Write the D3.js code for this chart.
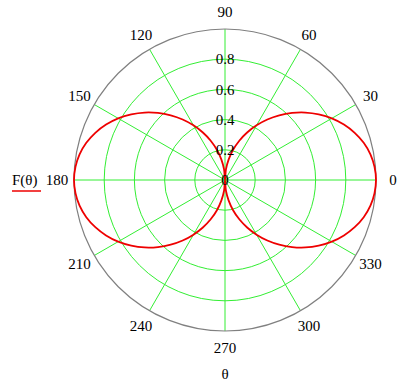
<!DOCTYPE html>
<html><head><meta charset="utf-8">
<script src="https://cdn.jsdelivr.net/npm/d3@7"></script>
<style>body{margin:0;background:#fff}svg{display:block}svg text{font-family:"Times New Roman","Liberation Serif",serif}</style>
</head><body>
<script>
const angleTicks = [0, 30, 60, 90, 120, 150, 180, 210, 240, 270, 300, 330];
const radialTicks = [0, 0.2, 0.4, 0.6, 0.8];
const radialLabels = ["0", "0.2", "0.4", "0.6", "0.8"];
const thetaDeg = d3.range(0, 360, 5);
const Fvalues = [
  1.000,0.994,0.978,0.951,0.914,0.869,0.817,0.758,0.695,0.628,0.559,0.489,0.418,0.347,0.277,0.207,0.137,0.069,
  0.000,0.069,0.137,0.207,0.277,0.347,0.418,0.489,0.559,0.628,0.695,0.758,0.817,0.869,0.914,0.951,0.978,0.994,
  1.000,0.994,0.978,0.951,0.914,0.869,0.817,0.758,0.695,0.628,0.559,0.489,0.418,0.347,0.277,0.207,0.137,0.069,
  0.000,0.069,0.137,0.207,0.277,0.347,0.418,0.489,0.559,0.628,0.695,0.758,0.817,0.869,0.914,0.951,0.978,0.994
];
const seriesName = "F(\u03B8)";
const axisName = "\u03B8";

const W = 403, H = 381, cx = 225, cy = 180, R = 151;
const svg = d3.select("body").append("svg").attr("width", W).attr("height", H);
const r = d3.scaleLinear().domain([0, 1]).range([0, R]);
const a = d3.scaleLinear().domain([0, 360]).range([0, 2 * Math.PI]);
const g = svg.append("g").attr("transform", `translate(${cx},${cy})`);
const green = "#33ee33";

g.selectAll("circle.grid").data(radialTicks.filter(d => d > 0)).join("circle")
  .attr("r", d => r(d)).attr("fill", "none").attr("stroke", green).attr("stroke-width", 1);
g.selectAll("line.spoke").data(angleTicks).join("line")
  .attr("x1", 0).attr("y1", 0)
  .attr("x2", d => r(1) * Math.cos(a(d))).attr("y2", d => -r(1) * Math.sin(a(d)))
  .attr("stroke", green).attr("stroke-width", 1);
g.append("circle").attr("r", r(1)).attr("fill", "none").attr("stroke", "#808080").attr("stroke-width", 1.2);

const line = d3.lineRadial()
  .angle((d, i) => Math.PI / 2 - a(thetaDeg[i]))
  .radius(d => r(d))
  .curve(d3.curveCatmullRomClosed);
g.append("path").datum(Fvalues).attr("d", line)
  .attr("fill", "none").attr("stroke", "#ee0000").attr("stroke-width", 1.8);

g.selectAll("text.rl").data(radialTicks).join("text")
  .attr("x", 0).attr("y", d => -r(d)).attr("dy", "0.35em")
  .attr("text-anchor", "middle").attr("font-size", 15)
  .text((d, i) => radialLabels[i]);

const LR = 168;
g.selectAll("text.al").data(angleTicks).join("text")
  .attr("x", d => LR * Math.cos(a(d))).attr("y", d => -LR * Math.sin(a(d)))
  .attr("dy", "0.35em").attr("text-anchor", "middle").attr("font-size", 15)
  .text(d => d);

svg.append("text").attr("x", 12).attr("y", 185).attr("font-size", 15).text(seriesName);
svg.append("line").attr("x1", 12).attr("x2", 41).attr("y1", 191).attr("y2", 191)
  .attr("stroke", "#ee0000").attr("stroke-width", 1.5);

svg.append("text").attr("x", cx).attr("y", 379).attr("text-anchor", "middle")
  .attr("font-size", 15).text(axisName);
</script>
</body></html>
